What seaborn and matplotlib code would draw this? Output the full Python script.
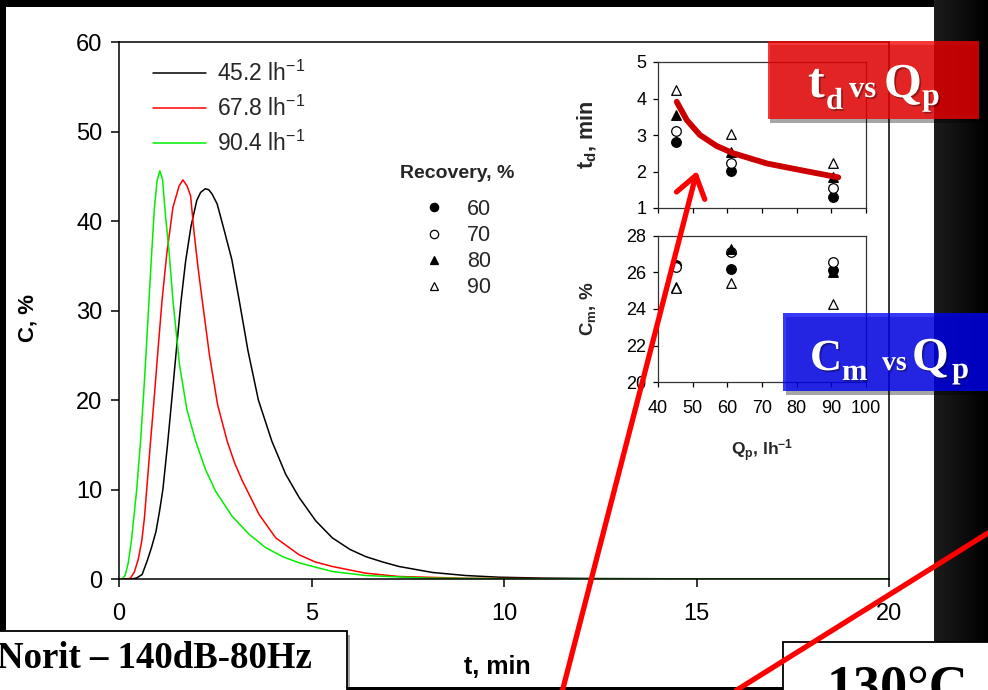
import numpy as np
import pandas as pd
import matplotlib
matplotlib.use("Agg")
import matplotlib.pyplot as plt
import seaborn as sns
from matplotlib.patches import Rectangle, FancyArrowPatch, ArrowStyle
from matplotlib.lines import Line2D
import matplotlib.patheffects as pe

sns.set_theme(style="ticks")
plt.rcParams["font.family"] = ["Liberation Sans", "DejaVu Sans"]
plt.rcParams["mathtext.fontset"] = "custom"
plt.rcParams["mathtext.rm"] = "Liberation Sans"
plt.rcParams["mathtext.it"] = "Liberation Sans:italic"
plt.rcParams["mathtext.bf"] = "Liberation Sans:bold"

W, H = 988, 690

# ---- breakthrough curves, C (%) vs t (min), one per feed flow rate ----
flow_rates = ["45.2", "67.8", "90.4"]
t_452 = [0, 0.30, 0.45, 0.60, 0.73, 0.85, 0.96, 1.05, 1.14, 1.26, 1.37, 1.49, 1.61,
         1.73, 1.87, 2.02, 2.12, 2.24, 2.33, 2.42, 2.55, 2.73, 2.93, 3.12, 3.35,
         3.62, 3.97, 4.33, 4.68, 5.11, 5.54, 6.00, 6.41, 6.85, 7.27, 8.14, 9.00,
         9.87, 11.0, 12.5, 15.0, 20.0]
c_452 = [0, 0, 0.1, 0.5, 2.0, 3.6, 5.3, 7.5, 10.0, 15.0, 20.0, 25.6, 31.0,
         35.5, 39.4, 42.3, 43.2, 43.6, 43.5, 43.0, 41.9, 39.0, 35.7, 31.2, 25.5,
         20.0, 15.4, 11.7, 9.1, 6.5, 4.6, 3.3, 2.5, 1.9, 1.4, 0.73, 0.39,
         0.2, 0.1, 0.05, 0.02, 0]
t_678 = [0, 0.20, 0.30, 0.40, 0.50, 0.59, 0.66, 0.72, 0.82, 0.91, 1.02, 1.12, 1.24,
         1.40, 1.56, 1.66, 1.77, 1.86, 1.95, 2.05, 2.16, 2.35, 2.56, 2.81, 3.00,
         3.20, 3.64, 4.07, 4.68, 5.10, 5.54, 6.41, 7.27, 9.0, 12.0, 20.0]
c_678 = [0, 0, 0.1, 0.8, 2.2, 4.2, 6.8, 10.0, 15.4, 20.0, 26.0, 31.2, 36.3,
         41.5, 43.9, 44.6, 43.9, 42.8, 38.7, 34.9, 31.2, 25.0, 19.5, 15.4, 13.0,
         11.0, 7.2, 4.6, 2.7, 1.9, 1.4, 0.65, 0.28, 0.08, 0.02, 0]
t_904 = [0, 0.08, 0.16, 0.24, 0.32, 0.40, 0.46, 0.56, 0.63, 0.70, 0.78, 0.85, 0.92,
         0.99, 1.06, 1.13, 1.21, 1.30, 1.40, 1.57, 1.76, 1.99, 2.25, 2.51, 2.94,
         3.38, 3.81, 4.25, 4.68, 5.54, 6.41, 8.0, 10.0, 15.0, 20.0]
c_904 = [0, 0, 0.4, 1.8, 4.2, 7.5, 10.0, 15.4, 20.0, 25.0, 31.2, 36.5, 41.5,
         44.5, 45.6, 44.7, 40.5, 36.6, 31.2, 24.0, 19.0, 15.4, 12.2, 9.8, 7.0,
         5.0, 3.5, 2.5, 1.8, 0.84, 0.39, 0.1, 0.03, 0, 0]
curve_colors = ["#000000", "#ff0000", "#00ee00"]

# ---- inset data vs feed flow rate Q_p ----
q_p = [45.2, 61.0, 90.4]
recovery_levels = ["60", "70", "80", "90"]
td_60 = [2.82, 2.02, 1.31]
td_70 = [3.12, 2.22, 1.54]
td_80 = [3.55, 2.54, 1.86]
td_90 = [4.23, 3.03, 2.24]
cm_60 = [26.40, 26.20, 26.13]
cm_70 = [26.27, 27.13, 26.58]
cm_80 = [25.20, 27.26, 26.04]
cm_90 = [25.15, 25.43, 24.27]
# hand-drawn trend through t_d
q_trend = [45.4, 48.3, 52.1, 56.9, 61.7, 71.4, 81.0, 92.0]
td_trend = [3.91, 3.41, 3.00, 2.70, 2.50, 2.22, 2.04, 1.84]


def fx(x):
    return x / W


def fy(y):
    return 1 - y / H


df = pd.concat([
    pd.DataFrame({"t": t, "C": c, "flow": f})
    for t, c, f in zip([t_452, t_678, t_904], [c_452, c_678, c_904], flow_rates)
], ignore_index=True)

fig = plt.figure(figsize=(W / 100, H / 100), dpi=100, facecolor="black")

# white slide panel and dark band on the right
fig.add_artist(Rectangle((fx(6), fy(687)), (934 - 6) / W, (687 - 7) / H,
                         transform=fig.transFigure, facecolor="white",
                         edgecolor="none", zorder=-10))
band = np.zeros((642, 54, 3))
band[:] = np.linspace(0.11, 0.0, 54)[None, :, None]
fig.figimage(band, xo=934, yo=H - 642, origin="upper", zorder=-9)

# ---- main axes ----
ax = fig.add_axes([fx(119), fy(579), 770 / W, 537 / H], zorder=0)
ax.set_facecolor("white")
sns.lineplot(data=df, x="t", y="C", hue="flow", palette=curve_colors,
             estimator=None, sort=False, legend=False, lw=1.1, ax=ax)
ax.set_xlim(0, 20)
ax.set_ylim(0, 60)
ax.set_xticks(range(0, 21, 5))
ax.set_yticks(range(0, 61, 10))
for s in ax.spines.values():
    s.set_color("black")
    s.set_linewidth(1.1)
ax.tick_params(axis="both", direction="out", length=6, width=1.1,
               labelsize=17, colors="black")
ax.tick_params(axis="x", pad=11)
ax.tick_params(axis="y", pad=6)
ax.set_xlabel("t, min", fontsize=18, fontweight="bold", color="black", va="top")
ax.xaxis.set_label_coords((497 - 119) / 770, -(655 - 579) / 537)
ax.set_ylabel("C, %", fontsize=16, fontweight="bold", color="black")
ax.yaxis.set_label_coords((38 - 119) / 770, (579 - 318) / 537)

leg1 = ax.legend(ax.lines[:3], [f"{f} lh$^{{-1}}$" for f in flow_rates],
                 loc="upper left", bbox_to_anchor=(fx(153), fy(61)),
                 bbox_transform=fig.transFigure, frameon=False, fontsize=16.5,
                 handlelength=2.3, handletextpad=0.5, labelspacing=0.42,
                 borderpad=0, borderaxespad=0)
ax.add_artist(leg1)

marker_styles = [("o", "black"), ("o", "white"), ("^", "black"), ("^", "white")]
rec_handles = [Line2D([], [], ls="none", marker=m, markersize=6,
                      markerfacecolor=fc, markeredgecolor="black", markeredgewidth=0.9)
               for m, fc in marker_styles]
leg2 = ax.legend(rec_handles, recovery_levels, title="Recovery, %\n",
                 title_fontproperties={"weight": "bold", "size": 14},
                 loc="upper center", bbox_to_anchor=(fx(457), fy(158.5)),
                 bbox_transform=fig.transFigure, frameon=False, fontsize=15.5,
                 handlelength=1.0, handletextpad=1.05, labelspacing=0.24,
                 borderpad=0.3, borderaxespad=0)
leg2.get_title().set_linespacing(0.6)

# ---- insets ----
ax1 = fig.add_axes([fx(658), fy(208), 208 / W, 146 / H], zorder=2)
ax2 = fig.add_axes([fx(658), fy(382.3), 208 / W, 146.6 / H], zorder=2)
td_sets = [td_60, td_70, td_80, td_90]
cm_sets = [cm_60, cm_70, cm_80, cm_90]
for (m, fc), td, cm in zip(marker_styles, td_sets, cm_sets):
    sns.scatterplot(x=q_p, y=td, marker=m, color=fc, edgecolor="black",
                    linewidth=0.9, s=48, ax=ax1, zorder=3)
    sns.scatterplot(x=q_p, y=cm, marker=m, color=fc, edgecolor="black",
                    linewidth=0.9, s=48, ax=ax2, zorder=3)
sns.lineplot(x=q_trend, y=td_trend, color="#cc0000", lw=4.2, ax=ax1,
             estimator=None, sort=False, zorder=5, solid_capstyle="round")

for a, lo, hi, step in [(ax1, 1, 5, 1), (ax2, 20, 28, 2)]:
    a.set_facecolor("white")
    a.set_xlim(40, 100)
    a.set_ylim(lo, hi)
    a.set_xticks(range(40, 101, 10))
    a.set_yticks(range(lo, hi + 1, step))
    for s in a.spines.values():
        s.set_color("#333333")
        s.set_linewidth(0.9)
    a.tick_params(axis="both", direction="out", length=3.5, width=0.9,
                  labelsize=13, colors="black")
    a.tick_params(axis="y", pad=5)
    a.tick_params(axis="x", pad=9)
ax1.tick_params(axis="x", labelbottom=False)
ax1.set_ylabel(r"t$_\mathbf{d}$, min", fontsize=15.5, fontweight="bold")
ax1.yaxis.set_label_coords(-(658 - 599) / 208, 0.5)
ax2.set_ylabel(r"C$_\mathbf{m}$, %", fontsize=13.5, fontweight="bold")
ax2.yaxis.set_label_coords(-(658 - 598) / 208, 0.5)
ax2.set_xlabel(r"Q$_\mathbf{p}$, lh$^\mathbf{-1}$", fontsize=12.5, fontweight="bold")
ax2.xaxis.set_label_coords((762 - 658) / 208, -(438 - 382.3) / 146.6)

# ---- slide call-out boxes ----
shadow = [pe.SimplePatchShadow(offset=(2, -3), shadow_rgbFace="black", alpha=0.35),
          pe.Normal()]


def add_box(x0, y0, x1, y1, face, alpha=1.0, edge="none", lw=0):
    r = Rectangle((fx(x0), fy(y1)), (x1 - x0) / W, (y1 - y0) / H,
                  transform=fig.transFigure, facecolor=face, alpha=alpha,
                  edgecolor=edge, linewidth=lw, zorder=5)
    r.set_path_effects(shadow)
    fig.add_artist(r)


def add_runs(runs, color="white"):
    for x, y, s, size in runs:
        t = fig.text(fx(x), fy(y), s, fontsize=size, color=color,
                     fontweight="bold", family=["Liberation Serif", "DejaVu Serif"],
                     ha="left", va="baseline", zorder=7)
        if color == "white":
            t.set_path_effects([pe.SimplePatchShadow(offset=(1.2, -1.2),
                                                     shadow_rgbFace="black", alpha=0.35),
                                pe.Normal()])


add_box(767.7, 41, 979, 119, "#f50000", alpha=0.78)
add_runs([(808, 97, "t", 36), (826, 109, "d", 22), (849, 97, "vs", 22),
          (884, 97, "Q", 35), (922, 105, "p", 23)])

add_box(783, 313.3, 995, 390.7, "#0000f5", alpha=0.78)
add_runs([(810, 370, "C", 32), (842, 380, "m", 22), (882, 370, "vs", 20),
          (912, 370, "Q", 34), (952, 378, "p", 22)])

add_box(-5, 631, 347, 700, "white", edge="black", lw=1.3)
add_runs([(-3, 668, "Norit \u2013 140dB-80Hz", 26.5)], color="black")

add_box(783, 642, 1000, 700, "white", edge="black", lw=1.3)
add_runs([(827, 704, "130\u00b0C", 39)], color="black")

# ---- red pointer arrows ----
arrow = FancyArrowPatch((fx(560), fy(700)), (fx(697), fy(171)),
                        transform=fig.transFigure,
                        arrowstyle=ArrowStyle("->", head_length=0.5, head_width=0.35),
                        mutation_scale=30, color="#ff0000", lw=3.8,
                        shrinkA=0, shrinkB=0, zorder=8)
fig.add_artist(arrow)
fig.add_artist(Line2D([fx(1000), fx(728)], [fy(525.5), fy(695.5)],
                      transform=fig.transFigure, color="#ff0000", lw=3.8,
                      solid_capstyle="butt", zorder=8))

fig.savefig("out.png", dpi=100, facecolor="black")
